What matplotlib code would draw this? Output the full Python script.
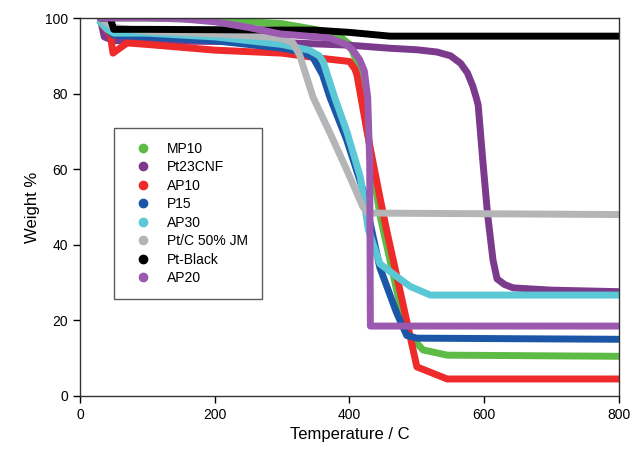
import matplotlib
matplotlib.use("Agg")
import matplotlib.pyplot as plt
from matplotlib.lines import Line2D

plt.rcParams['font.family'] = ['Liberation Sans', 'DejaVu Sans']

labels = ["MP10", "Pt23CNF", "AP10", "P15", "AP30", "Pt/C 50% JM", "Pt-Black", "AP20"]
colors = ["#5DBB46", "#7B3A8C", "#EE2A2B", "#1B57A6", "#5BC8D6", "#B3B5B6", "#000000", "#9B59B0"]

mp10_t = [30, 100, 200, 300, 380, 400, 412, 430, 445, 470, 485, 509, 545, 800]
mp10_w = [100, 100, 99.5, 98.5, 96, 93, 88, 66, 48, 28, 17, 12.2, 10.8, 10.5]

pt23_t = [30, 36, 50, 200, 300, 400, 460, 500, 530, 550, 565, 575, 583, 588, 591, 598, 605, 613, 619, 630, 643, 700, 800]
pt23_w = [100, 95, 94, 93.8, 93.5, 92.8, 92, 91.6, 91, 90, 88, 85.5, 82, 79, 77, 62, 48, 36, 31, 29.5, 28.6, 28, 27.6]

ap10_t = [30, 45, 49, 55, 70, 100, 200, 300, 350, 400, 408, 411, 426, 445, 455, 500, 545, 800]
ap10_w = [99, 95.5, 90.7, 91.5, 93.4, 93, 91.5, 90.7, 89.5, 88.5, 86.5, 85, 70, 52.7, 44, 7.7, 4.5, 4.5]

p15_t = [30, 40, 50, 100, 200, 300, 330, 346, 360, 371, 396, 420, 445, 470, 485, 500, 800]
p15_w = [100, 97, 95.5, 95, 94, 92, 91, 89.5, 85, 79, 67.7, 54.5, 34, 22, 16, 15.3, 15]

ap30_t = [30, 40, 50, 100, 200, 300, 340, 355, 361, 378, 396, 416, 428, 445, 470, 490, 520, 800]
ap30_w = [99, 97, 96, 96, 95, 93, 91.5, 90, 88.4, 79, 70, 58, 44, 35, 31.6, 29, 26.7, 26.7]

ptc_t = [30, 50, 100, 200, 280, 300, 316, 326, 346, 371, 396, 420, 427, 800]
ptc_w = [100, 97.5, 96.5, 95.8, 95, 94.5, 93.4, 90.2, 79, 69.6, 59.8, 50, 48.4, 48]

ptb_t = [30, 45, 50, 100, 300, 347, 400, 460, 500, 800]
ptb_w = [100, 100, 97, 97, 96.8, 96.8, 96.2, 95.2, 95.2, 95.2]

ap20_t = [30, 100, 150, 200, 250, 297, 371, 395, 405, 415, 422, 427, 430, 431, 800]
ap20_w = [100, 100, 99.8, 99, 97.5, 95.8, 94.7, 93, 91.5, 89, 86, 79, 62, 18.5, 18.5]

series = [(mp10_t, mp10_w), (pt23_t, pt23_w), (ap10_t, ap10_w), (p15_t, p15_w),
          (ap30_t, ap30_w), (ptc_t, ptc_w), (ptb_t, ptb_w), (ap20_t, ap20_w)]

xticks = [0, 200, 400, 600, 800]
yticks = [0, 20, 40, 60, 80, 100]

fig = plt.figure(figsize=(6.3, 4.57), dpi=100)
ax = fig.add_axes([0.127, 0.1335, 0.8555, 0.8271])

for (t, w), c in zip(series, colors):
    ax.plot(t, w, color=c, lw=5, solid_capstyle='round', solid_joinstyle='round')

ax.set_xlim(0, 800)
ax.set_ylim(0, 100)
ax.set_xticks(xticks)
ax.set_yticks(yticks)
ax.tick_params(axis='both', direction='out', labelsize=10, length=5, width=1,
               top=False, right=False)
ax.set_xlabel("Temperature / C", fontsize=12)
ax.set_ylabel("Weight %", fontsize=12)
for s in ax.spines.values():
    s.set_linewidth(1)
    s.set_color('#333333')

handles = [Line2D([], [], ls='none', marker='o', markersize=6, color=c) for c in colors]
leg = ax.legend(handles, labels, loc='upper left', bbox_to_anchor=(0.063, 0.709),
                fontsize=10, frameon=True, fancybox=False, labelspacing=0.32,
                handletextpad=0.66, borderpad=1.0, handlelength=2.15, borderaxespad=0)
leg.get_frame().set_edgecolor('#333333')
leg.get_frame().set_linewidth(1)

fig.savefig("out.png", dpi=100)
